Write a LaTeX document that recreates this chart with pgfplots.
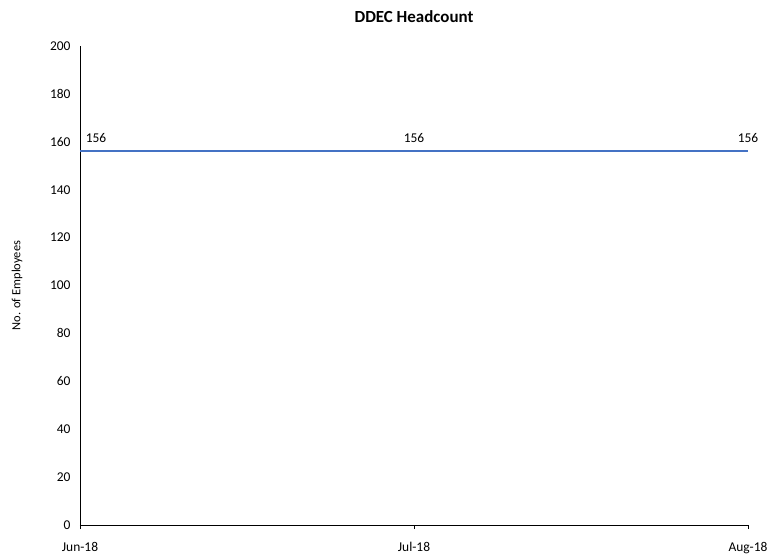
\documentclass[border=0pt]{standalone}
\usepackage{pgfplots}
\pgfplotsset{compat=1.18}
\usetikzlibrary{calc}
\usepackage{fontspec}
\setmainfont{Carlito}
\definecolor{xlblue}{HTML}{4472C4}
\begin{document}
\begin{tikzpicture}
\begin{axis}[
  name=ax,
  scale only axis,
  width=668bp, height=479bp,
  xmin=0, xmax=2, ymin=0, ymax=200,
  xtick={0,1,2},
  xticklabels={Jun-18,Jul-18,Aug-18},
  ytick={0,20,...,200},
  axis lines=left,
  axis line style={-, black, line width=0.9pt},
  tick align=outside,
  xtick style={black, line width=0.8pt},
  major tick length=4bp,
  ytick style={draw=none},
  tick label style={font=\fontsize{13.5}{15}\selectfont},
  /pgf/number format/assume math mode=true,
  yticklabel style={xshift=-2bp},
  xticklabel style={yshift=-10bp},
  ylabel={No. of Employees},
  ylabel style={font=\fontsize{12.5}{14}\selectfont, at={(axis description cs:-0.0943,0.5)}, anchor=center},
  title={\bfseries DDEC Headcount},
  title style={font=\fontsize{17}{19}\selectfont, at={(rel axis cs:0.5,1)}, yshift=14bp},
  clip=false,
]
\addplot[draw=xlblue, line width=1.8pt, mark=none,
  nodes near coords,
  every node near coord/.append style={font=\fontsize{13.5}{15}\selectfont, text=black, anchor=south, yshift=5bp},
  coordinate style/.condition={x<0.5}{xshift=16bp},
] coordinates {(0,156) (1,156) (2,156)};
\end{axis}
\pgfresetboundingbox
\path[use as bounding box] ($(ax.south west)+(-80bp,-29bp)$) rectangle ($(ax.south west)+(702bp,525bp)$);
\end{tikzpicture}
\end{document}
